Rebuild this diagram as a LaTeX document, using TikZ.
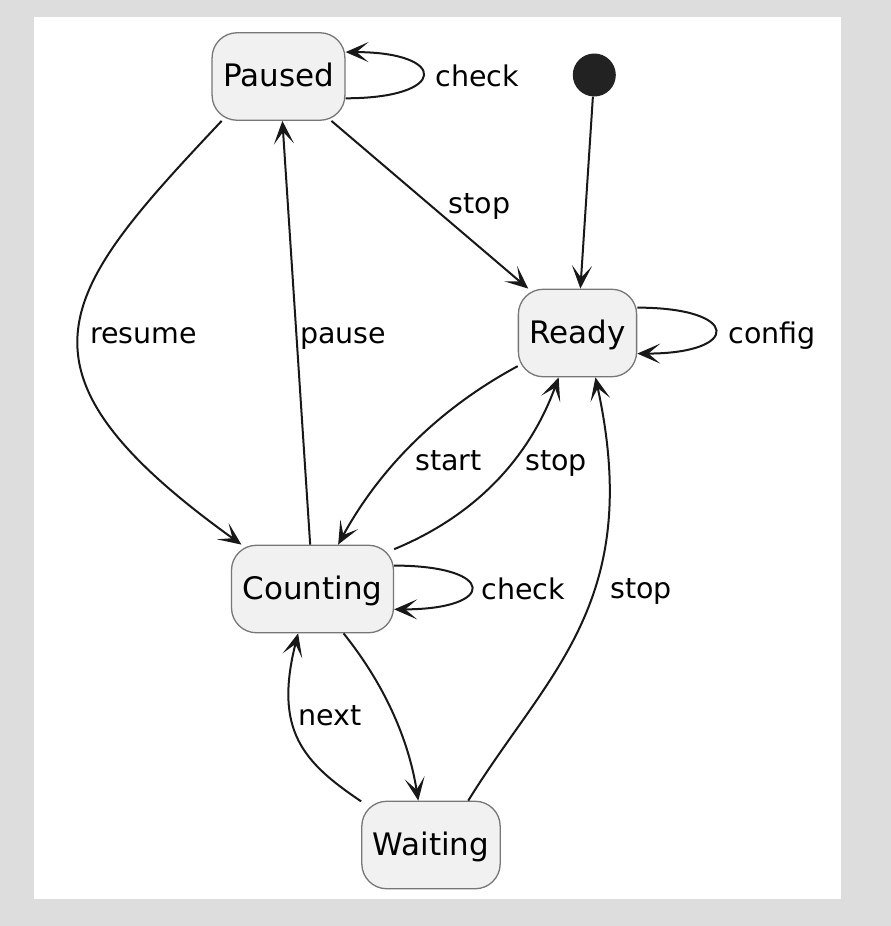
\documentclass[tikz,border=0pt]{standalone}
\usepackage{fontspec}
\setmainfont{DejaVu Sans}
\usetikzlibrary{arrows.meta}
\definecolor{bggray}{HTML}{DDDDDD}
\definecolor{statefill}{HTML}{F1F1F1}
\definecolor{stateline}{HTML}{777777}
\definecolor{edgecol}{HTML}{181818}
\definecolor{initfill}{HTML}{222222}
\begin{document}
\begin{tikzpicture}[x=1pt,y=-1pt,
    state/.style={draw=stateline, line width=1.3pt, fill=statefill, rounded corners=25pt,
      inner xsep=11pt, inner ysep=0pt, minimum height=87.5pt, text height=23pt, text depth=2.5pt,
      font=\fontsize{31}{37}\selectfont},
    edge/.style={draw=edgecol, line width=2pt, -{Stealth[length=23pt,width=20pt,inset=12pt]}},
    lbl/.style={anchor=base west, inner sep=0pt, text=black, font=\fontsize{28.5}{34}\selectfont}]
    \useasboundingbox (0,0) rectangle (891,926);
    \fill [bggray] (0,0) rectangle (891,926);
    \fill [white] (34,17) rectangle (841,899);
    \node [state] (paused) at (278.5,76.5) {Paused};
    \node [state] (ready) at (577.5,333) {Ready};
    \node [state] (counting) at (312.5,589) {Counting};
    \node [state] (waiting) at (431,845) {Waiting};
    \node [circle, fill=initfill, minimum size=43pt, inner sep=0pt] (init) at (594.3,75) {};
    \draw [edge] (init) -- (ready);
    \draw [edge] (paused.-18) .. controls +(103,0) and +(103,0) .. (paused.20);
    \draw [edge] (ready.23) .. controls +(104,0) and +(104,0) .. (ready.-19);
    \draw [edge] (counting.16) .. controls +(103,0) and +(103,0) .. (counting.-14);
    \draw [edge] (paused.-40) -- (ready.138);
    \draw [edge] (paused.218) .. controls +(-162,172) and +(-245,-176) .. (counting.148);
    \draw [edge] (counting.93) -- (paused.-85);
    \draw [edge] (ready.209) .. controls +(-78,42) and +(42,-77) .. (counting.60);
    \draw [edge] (counting.26) .. controls +(80,-33) and +(-30,82) .. (ready.-113);
    \draw [edge] (waiting.50) .. controls +(79,-128) and +(49,225) .. (ready.-68);
    \draw [edge] (counting.-55) .. controls +(40,50) and +(-10,-63) .. (waiting.106);
    \draw [edge] (waiting.148) .. controls +(-58,-39) and +(-24.5,97) .. (counting.-108);
    \node [lbl] (lpcheck) at (435.5,86.7) {check};
    \node [lbl] (lconfig) at (728.5,343.3) {config};
    \node [lbl] (lccheck) at (481.5,599.3) {check};
    \node [lbl] (lpstop) at (448.5,213.3) {stop};
    \node [lbl] (lresume) at (90,343.3) {resume};
    \node [lbl] (lpause) at (300,343.3) {pause};
    \node [lbl] (lstart) at (415,470) {start};
    \node [lbl] (lcstop) at (525,470) {stop};
    \node [lbl] (lwstop) at (610,598) {stop};
    \node [lbl] (lnext) at (298,725) {next};
\end{tikzpicture}
\end{document}
